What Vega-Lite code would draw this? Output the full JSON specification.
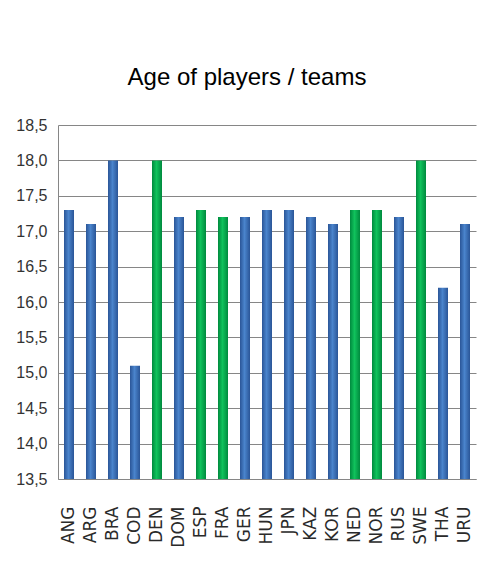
{
  "$schema": "https://vega.github.io/schema/vega-lite/v6.json",
  "autosize": "none",
  "width": 418,
  "height": 354,
  "padding": {"left": 58, "top": 125, "right": 10, "bottom": 103},
  "background": "white",
  "title": {
    "text": "Age of players / teams",
    "font": "Liberation Sans, sans-serif",
    "fontSize": 24,
    "fontWeight": "normal",
    "color": "#000000",
    "anchor": "middle",
    "baseline": "alphabetic",
    "offset": 8,
    "dx": -20
  },
  "data": {
    "values": [
      {"team": "ANG", "age": 17.3, "group": "blue"},
      {"team": "ARG", "age": 17.1, "group": "blue"},
      {"team": "BRA", "age": 18.0, "group": "blue"},
      {"team": "COD", "age": 15.1, "group": "blue"},
      {"team": "DEN", "age": 18.0, "group": "green"},
      {"team": "DOM", "age": 17.2, "group": "blue"},
      {"team": "ESP", "age": 17.3, "group": "green"},
      {"team": "FRA", "age": 17.2, "group": "green"},
      {"team": "GER", "age": 17.2, "group": "blue"},
      {"team": "HUN", "age": 17.3, "group": "blue"},
      {"team": "JPN", "age": 17.3, "group": "blue"},
      {"team": "KAZ", "age": 17.2, "group": "blue"},
      {"team": "KOR", "age": 17.1, "group": "blue"},
      {"team": "NED", "age": 17.3, "group": "green"},
      {"team": "NOR", "age": 17.3, "group": "green"},
      {"team": "RUS", "age": 17.2, "group": "blue"},
      {"team": "SWE", "age": 18.0, "group": "green"},
      {"team": "THA", "age": 16.2, "group": "blue"},
      {"team": "URU", "age": 17.1, "group": "blue"}
    ]
  },
  "mark": {"type": "bar", "width": 10, "stroke": null},
  "encoding": {
    "x": {
      "field": "team",
      "type": "nominal",
      "sort": null,
      "title": null,
      "scale": {"paddingInner": 0.5, "paddingOuter": 0.25},
      "axis": {
        "labelAngle": -90,
        "labelFont": "DejaVu Sans, Verdana, sans-serif",
        "labelFontSize": 17,
        "labelColor": "#2a2a2a",
        "labelPadding": 27,
        "ticks": false,
        "domainColor": "#868686",
        "domainWidth": 1
      }
    },
    "y": {
      "field": "age",
      "type": "quantitative",
      "title": null,
      "scale": {"domain": [13.5, 18.5], "zero": false, "nice": false},
      "axis": {
        "values": [13.5, 14, 14.5, 15, 15.5, 16, 16.5, 17, 17.5, 18, 18.5],
        "labelExpr": "replace(format(datum.value, '.1f'), '.', ',')",
        "labelFont": "Liberation Sans, sans-serif",
        "labelFontSize": 16,
        "labelColor": "#333333",
        "labelPadding": 11,
        "ticks": false,
        "grid": true,
        "gridColor": "#868686",
        "gridWidth": 1,
        "domainColor": "#868686",
        "domainWidth": 1
      }
    },
    "y2": {"datum": 13.5},
    "color": {
      "condition": {
        "test": "datum.group === 'green'",
        "value": {
          "gradient": "linear", "x1": 0, "y1": 0, "x2": 1, "y2": 0,
          "stops": [
            {"offset": 0, "color": "#008a3e"},
            {"offset": 0.45, "color": "#10c25c"},
            {"offset": 1, "color": "#008a3e"}
          ]
        }
      },
      "value": {
        "gradient": "linear", "x1": 0, "y1": 0, "x2": 1, "y2": 0,
        "stops": [
          {"offset": 0, "color": "#2a5597"},
          {"offset": 0.45, "color": "#4a84cc"},
          {"offset": 1, "color": "#2a5597"}
        ]
      }
    }
  },
  "config": {
    "view": {"stroke": null},
    "axis": {"labelOverlap": false}
  }
}
